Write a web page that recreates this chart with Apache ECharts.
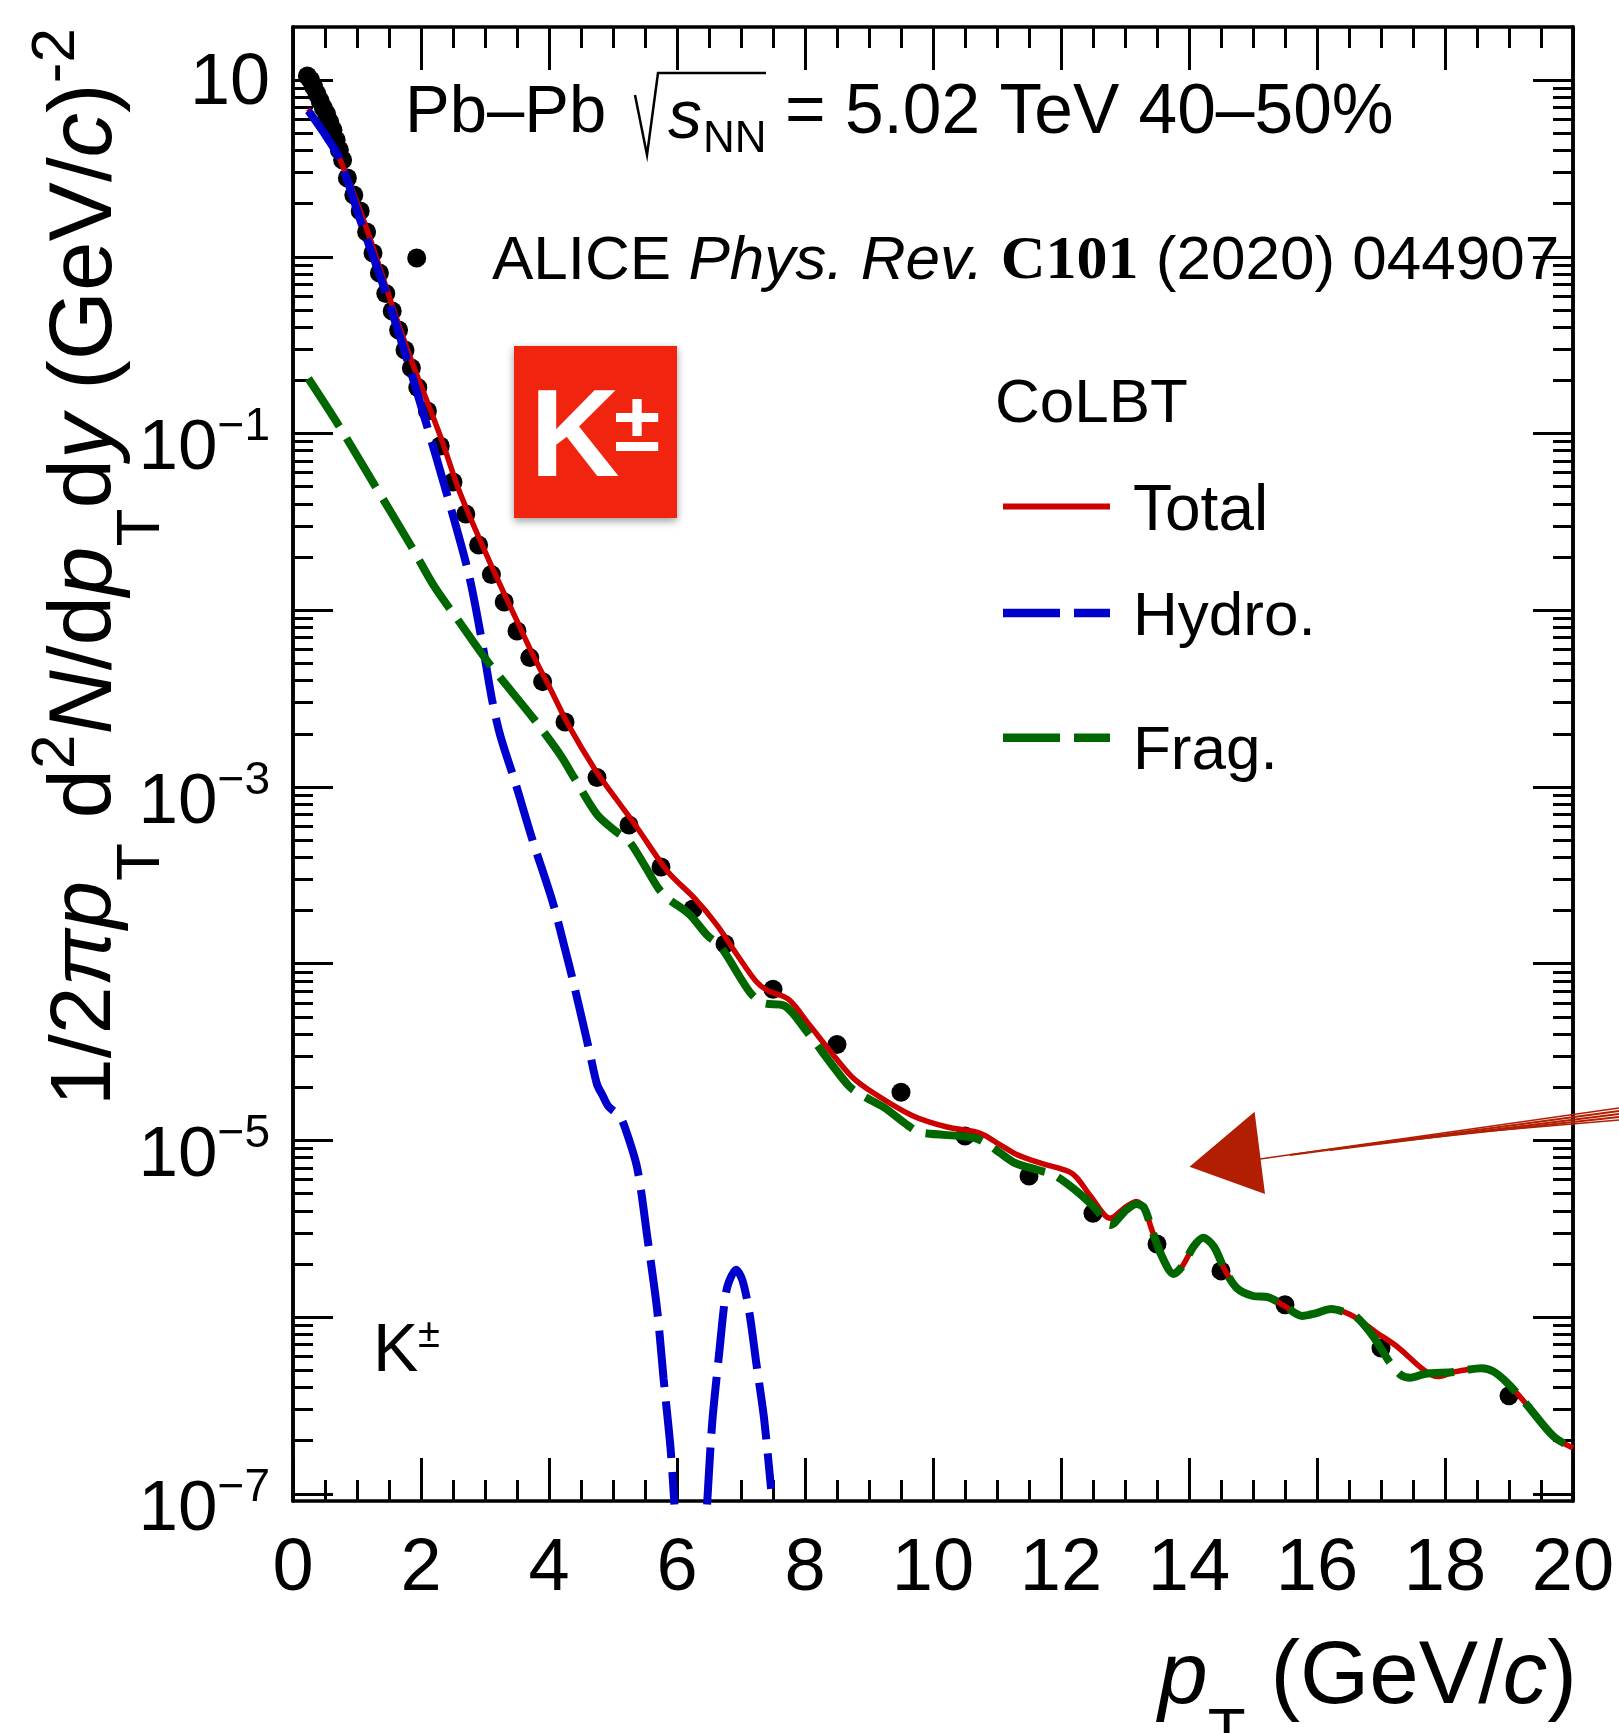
<!DOCTYPE html>
<html><head><meta charset="utf-8">
<style>html,body{margin:0;padding:0;background:#fff}#c{width:1619px;height:1733px}</style>
<script src="https://cdn.jsdelivr.net/npm/echarts@6/dist/echarts.min.js"></script>
</head><body><div id="c"></div>
<script>
// Values. Y values are log10 of the yield.
const dataPt=[0.225,0.275,0.325,0.375,0.425,0.475,0.525,0.575,0.625,0.675,0.725,0.775,0.85,0.95,1.05,1.15,1.25,1.35,1.45,1.55,1.65,1.75,1.85,1.95,2.1,2.3,2.5,2.7,2.9,3.1,3.3,3.5,3.7,3.9,4.25,4.75,5.25,5.75,6.25,6.75,7.5,8.5,9.5,10.5,11.5,12.5,13.5,14.5,15.5,17,19];
const dataLog=[1.023,1.0,0.96,0.921,0.881,0.842,0.808,0.762,0.717,0.661,0.604,0.547,0.446,0.349,0.259,0.14,0.021,-0.092,-0.208,-0.307,-0.414,-0.528,-0.629,-0.74,-0.873,-1.071,-1.274,-1.455,-1.631,-1.798,-1.953,-2.117,-2.268,-2.404,-2.632,-2.946,-3.215,-3.453,-3.69,-3.888,-4.145,-4.457,-4.727,-4.975,-5.201,-5.412,-5.586,-5.738,-5.93,-6.175,-6.444];
const totalPt=[0.24,0.53,0.73,1.13,1.54,1.83,2.32,2.61,3.06,3.5,3.77,4.03,4.3,4.72,5.05,5.38,5.86,6.28,6.63,6.93,7.23,7.41,7.74,8.07,8.4,8.73,9.09,9.68,10.22,10.73,11.05,11.29,11.66,12.12,12.25,12.47,12.77,13.02,13.18,13.3,13.42,13.58,13.76,13.89,14.07,14.22,14.39,14.56,14.75,15,15.24,15.49,15.77,15.98,16.22,16.41,16.62,16.91,17.25,17.68,17.89,18.14,18.57,18.76,18.98,19.26,19.7,20];
const totalLog=[0.836,0.678,0.553,0.18,-0.265,-0.567,-1.033,-1.337,-1.716,-2.061,-2.268,-2.451,-2.647,-2.902,-3.068,-3.232,-3.481,-3.632,-3.784,-3.945,-4.098,-4.151,-4.201,-4.347,-4.498,-4.639,-4.736,-4.86,-4.924,-4.958,-5.025,-5.076,-5.126,-5.176,-5.212,-5.318,-5.44,-5.374,-5.346,-5.382,-5.507,-5.658,-5.755,-5.714,-5.601,-5.55,-5.601,-5.733,-5.836,-5.88,-5.887,-5.936,-5.993,-5.978,-5.954,-5.969,-6.006,-6.082,-6.166,-6.302,-6.336,-6.31,-6.289,-6.308,-6.374,-6.487,-6.676,-6.74];
const hydroPt=[0.24,0.53,0.73,1.05,1.44,1.78,2.09,2.4,2.75,2.96,3.11,3.24,3.47,3.74,4.06,4.24,4.39,4.64,4.75,4.84,4.93,5.11,5.2,5.38,5.54,5.69,5.79,5.9,5.96];
const hydroLog=[0.826,0.675,0.553,0.208,-0.194,-0.579,-0.952,-1.337,-1.802,-2.192,-2.506,-2.711,-2.972,-3.297,-3.654,-3.902,-4.119,-4.509,-4.682,-4.747,-4.808,-4.866,-4.941,-5.159,-5.557,-5.959,-6.347,-6.745,-7.06];
const hydroBumpPt=[6.47,6.55,6.66,6.75,6.81,6.92,7.02,7.13,7.24,7.36,7.47];
const hydroBumpLog=[-7.06,-6.598,-6.2,-5.895,-5.801,-5.731,-5.789,-5.973,-6.263,-6.572,-6.972];
const fragPt=[0.24,0.71,1.28,1.85,2.21,2.57,3.06,3.76,4.18,4.39,4.75,5.05,5.25,5.5,5.71,5.86,6.19,6.48,6.68,7.14,7.35,7.68,8.01,8.67,8.88,9.23,9.61,9.8,10.64,10.88,11.05,11.29,11.64,11.89,12.22,12.53,12.77,13.02,13.18,13.3,13.42,13.58,13.76,13.89,14.07,14.22,14.39,14.56,14.75,15,15.24,15.49,15.77,15.98,16.22,16.41,16.62,16.88,17.13,17.31,17.46,17.68,18.14,18.57,18.76,18.98,19.26,19.7,20];
const fragLog=[-0.689,-0.952,-1.295,-1.639,-1.867,-2.051,-2.3,-2.614,-2.82,-2.946,-3.156,-3.253,-3.307,-3.448,-3.574,-3.632,-3.719,-3.842,-3.902,-4.162,-4.222,-4.238,-4.375,-4.686,-4.743,-4.812,-4.916,-4.955,-4.985,-5.028,-5.071,-5.129,-5.167,-5.195,-5.28,-5.382,-5.478,-5.393,-5.359,-5.382,-5.507,-5.658,-5.755,-5.714,-5.601,-5.55,-5.601,-5.733,-5.836,-5.88,-5.887,-5.936,-5.993,-5.978,-5.954,-5.969,-6.0,-6.11,-6.252,-6.327,-6.342,-6.321,-6.31,-6.289,-6.308,-6.374,-6.487,-6.676,-6.74];
const yLabelValues=[10,1e-1,1e-3,1e-5,1e-7];
const yLabelText={'10':'{b|10}','0.1':'{p|10}{s|−1}','0.001':'{p|10}{s|−3}','0.00001':'{p|10}{s|−5}','1e-7':'{p|10}{s|−7}'};
const yMajorTicks=[10,1,1e-1,1e-2,1e-3,1e-4,1e-5,1e-6,1e-7];
const minorMantissas=[2,3,4,5,6,7,8,9];
const yMinorTicks=[];
[-7,-6,-5,-4,-3,-2,-1,0].forEach(e=>minorMantissas.forEach(m=>yMinorTicks.push(+(m+'e'+e))));
const Y_MIN=Math.pow(10,-7.04), Y_MAX=Math.pow(10,1.3);

const pairs=(xs,ls)=>xs.map((x,i)=>[x,Math.pow(10,ls[i])]);
const FONT='"Liberation Sans",Helvetica,Arial,sans-serif';
const hydroLine=pairs(hydroPt,hydroLog).concat([[6.2,null]],pairs(hydroBumpPt,hydroBumpLog));

function yAxisCfg(position,ticks,len,labels){
  const a={type:'log',logBase:10,position,min:Y_MIN,max:Y_MAX,gridIndex:0,
    axisLine:{show:true,onZero:false,lineStyle:{color:'#000',width:3.5}},
    axisTick:{show:true,inside:true,length:len,customValues:ticks,lineStyle:{color:'#000',width:3}},
    splitLine:{show:false},minorTick:{show:false},minorSplitLine:{show:false},
    axisLabel:{show:false}};
  if(labels){a.axisLabel={show:true,customValues:yLabelValues,margin:23,fontFamily:FONT,
    formatter:v=>yLabelText[String(v)]||'',
    rich:{b:{fontSize:72,fontFamily:FONT,color:'#000',lineHeight:80,padding:[8,0,0,0]},
          p:{fontSize:71,fontFamily:FONT,color:'#000',lineHeight:90,padding:[32,0,0,0]},
          s:{fontSize:46,fontFamily:FONT,color:'#000',lineHeight:90,padding:[0,0,12,0]}}};}
  return a;
}
function xAxisCfg(position,labels){
  return {type:'value',position,min:0,max:20,interval:2,
    axisLine:{show:true,onZero:false,lineStyle:{color:'#000',width:3.5}},
    axisTick:{show:true,inside:true,length:43,lineStyle:{color:'#000',width:3}},
    minorTick:{show:true,splitNumber:4,length:21,lineStyle:{color:'#000',width:3}},
    splitLine:{show:false},
    axisLabel:labels?{show:true,margin:32,fontSize:74,fontFamily:FONT,color:'#000',showMinLabel:true,showMaxLabel:true,hideOverlap:false}:{show:false}};
}
const T=(text,x,y,size,extra)=>({type:'text',x,y,z:20,style:Object.assign({text,fontSize:size,fontFamily:FONT,fill:'#000',verticalAlign:'middle'},extra||{})});
const L=(x1,y,x2,color,w)=>({type:'line',z:20,shape:{x1,y1:y,x2,y2:y},style:{stroke:color,lineWidth:w}});
const S=(x1,y1,x2,y2,w)=>({type:'line',z:21,shape:{x1,y1,x2,y2},style:{stroke:'#B21E02',lineWidth:w}});

const option={
  animation:false,backgroundColor:'#fff',
  grid:{left:293,right:46,top:27,bottom:232,containLabel:false},
  xAxis:[xAxisCfg('bottom',true),xAxisCfg('top',false)],
  yAxis:[yAxisCfg('left',yMajorTicks,40,true),yAxisCfg('left',yMinorTicks,20,false),yAxisCfg('right',yMajorTicks,40,false),yAxisCfg('right',yMinorTicks,20,false)],
  series:[
    {name:'ALICE',type:'scatter',symbol:'circle',symbolSize:19,itemStyle:{color:'#000',opacity:1},data:pairs(dataPt,dataLog),z:3},
    {name:'Total',type:'line',showSymbol:false,symbol:'none',smooth:0.3,lineStyle:{color:'#CC0000',width:5.5},data:pairs(totalPt,totalLog),z:4},
    {name:'Hydro.',type:'line',showSymbol:false,symbol:'none',smooth:0.3,connectNulls:false,lineStyle:{color:'#0000CC',width:8,type:[57,14],cap:'butt'},data:hydroLine,z:5},
    {name:'Frag.',type:'line',showSymbol:false,symbol:'none',smooth:0.3,lineStyle:{color:'#006600',width:8,type:[57,14],cap:'butt'},data:pairs(fragPt,fragLog),z:6}
  ],
  graphic:{elements:[
    // y title
    {type:'text',x:86,y:1106,rotation:Math.PI/2,z:20,style:{
      text:'{a|1/2}{j|πp}{u|T}{b| d}{o|2}{i|N}{b|/d}{i|p}{u|T}{b|d}{i|y}{b| (GeV/}{i|c}{b|)}{o|-2}',
      align:'left',verticalAlign:'middle',fontFamily:FONT,
      rich:{a:{fontSize:86,fontFamily:FONT,lineHeight:230},
            j:{fontSize:86,fontFamily:FONT,fontStyle:'italic',lineHeight:230},
            b:{fontSize:89,fontFamily:FONT,lineHeight:230},
            i:{fontSize:89,fontFamily:FONT,fontStyle:'italic',lineHeight:230},
            u:{fontSize:62,fontFamily:FONT,lineHeight:230,padding:[112,0,0,0]},
            o:{fontSize:62,fontFamily:FONT,lineHeight:230,padding:[0,0,58,0]}}}},
    // x title
    {type:'text',x:1577,y:1678,z:20,style:{
      text:'{i|p}{u|T}{b| (GeV/}{i|c}{b|)}',align:'right',verticalAlign:'middle',fontFamily:FONT,
      rich:{b:{fontSize:89,fontFamily:FONT,lineHeight:230},
            i:{fontSize:89,fontFamily:FONT,fontStyle:'italic',lineHeight:230},
            u:{fontSize:62,fontFamily:FONT,lineHeight:230,padding:[112,0,0,0]}}}},
    // header
    T('Pb–Pb',405,114,67),
    {type:'polyline',z:20,shape:{points:[[635,95],[647,155],[658,73],[766,73]]},style:{stroke:'#000',lineWidth:2.5,fill:null}},
    T('s',668,119,68,{fontStyle:'italic'}),
    T('NN',703,140,44),
    T('= 5.02 TeV 40–50%',785,114,69.5),
    // ALICE legend
    {type:'circle',z:20,shape:{cx:416.7,cy:258,r:9.5},style:{fill:'#000'}},
    {type:'text',x:492,y:262,z:20,style:{text:'{b|ALICE }{i|Phys. Rev. }{c|C101}{b| (2020) 044907}',align:'left',verticalAlign:'middle',fontFamily:FONT,
      rich:{b:{fontSize:62,fontFamily:FONT},i:{fontSize:62,fontFamily:FONT,fontStyle:'italic'},c:{fontSize:62,fontFamily:'"Liberation Serif",serif',fontWeight:'bold'}}}},
    // CoLBT legend
    T('CoLBT',995,405,62),
    L(1003,506.5,1110,'#CC0000',6),T('Total',1133,512,64),
    L(1003,613,1060,'#0000CC',8.5),L(1074,613,1110,'#0000CC',8.5),T('Hydro.',1133,618,62),
    L(1003,737.7,1060,'#006600',8.5),L(1074,737.7,1110,'#006600',8.5),T('Frag.',1133,752,62),
    // K± tag
    {type:'rect',z:20,shape:{x:514,y:346,width:163,height:172},style:{fill:'#F0240F',shadowBlur:8,shadowColor:'rgba(0,0,0,0.4)',shadowOffsetY:3}},
    T('K',530,442,124,{fill:'#fff',fontWeight:'bold'}),
    T('±',614,428,84,{fill:'#fff',fontWeight:'bold'}),
    // K± bottom-left
    T('K',373,1352,68),T('±',418,1336,40),
    // arrow
    {type:'polygon',z:21,shape:{points:[[1189.5,1166.7],[1254.6,1111.7],[1265,1194]]},style:{fill:'#B21E02'}},
    S(1260,1159,1619,1108,1.5),S(1290,1155,1619,1111,2),S(1330,1150,1619,1114,2),S(1380,1143,1619,1117,2),S(1420,1137,1619,1120,1.5)
  ]}
};
option.series.forEach(s=>{s.xAxisIndex=0;s.yAxisIndex=0;});
const chart=echarts.init(document.getElementById('c'),null,{renderer:'canvas',width:1619,height:1733});
chart.setOption(option);
</script></body></html>
